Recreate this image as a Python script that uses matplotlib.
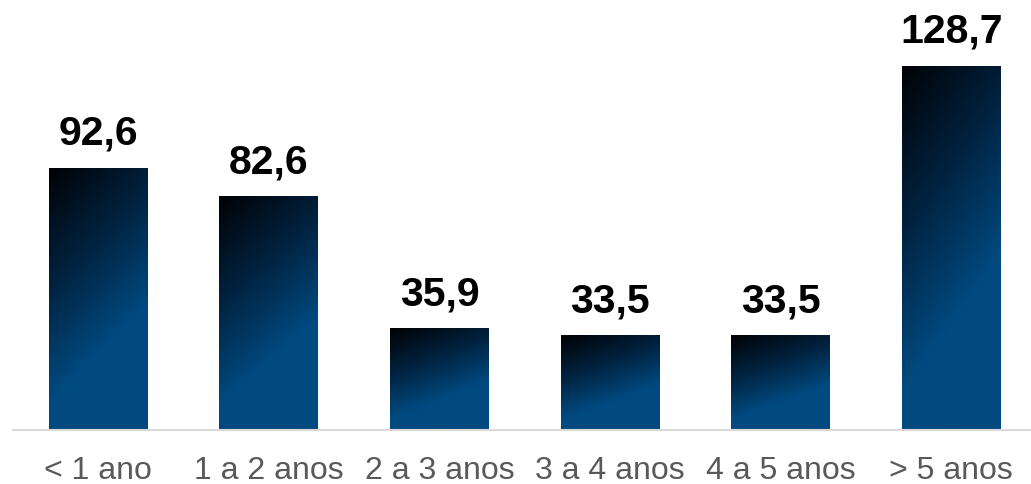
import numpy as np
import matplotlib.pyplot as plt
from matplotlib.colors import LinearSegmentedColormap

# --- Dati ---
categorie = ['< 1 ano', '1 a 2 anos', '2 a 3 anos', '3 a 4 anos', '4 a 5 anos', '> 5 anos']
valori = [92.6, 82.6, 35.9, 33.5, 33.5, 128.7]
etichette = ['92,6', '82,6', '35,9', '33,5', '33,5', '128,7']

plt.rcParams['font.family'] = ['Liberation Sans', 'DejaVu Sans']

fig = plt.figure(figsize=(10.31, 4.85), dpi=100)
ax = fig.add_axes([13 / 1031, 54 / 485, 1 - 13 / 1031, 431 / 485])

x = np.arange(len(categorie))
bars = ax.bar(x, valori, width=0.58, color='none', edgecolor='none', zorder=2)

# gradiente diagonale: nero in alto a sinistra -> blu in basso
cmap = LinearSegmentedColormap.from_list('grad', ['#000205', '#00223f', '#004a80'])
u = np.linspace(0, 1, 60)
v = np.linspace(0, 1, 200)
U, V = np.meshgrid(u, v)
T = np.clip((V + 0.37 * U) / 0.9, 0, 1)

for b in bars:
    x0, y0, w, h = b.get_x(), b.get_y(), b.get_width(), b.get_height()
    # riga 0 (T=0, scuro) in cima alla barra
    im = ax.imshow(T, cmap=cmap, vmin=0, vmax=1, aspect='auto',
                   extent=[x0, x0 + w, y0, y0 + h], origin='upper',
                   interpolation='bilinear', zorder=2)
    im.set_clip_path(b)

for xi, val, lab in zip(x, valori, etichette):
    ax.annotate(lab, (xi, val), xytext=(0, 11.5), textcoords='offset points',
                ha='center', va='bottom', fontsize=29.5, fontweight='bold',
                color='black')

ax.set_xlim(-0.5, 5.467)
ax.set_ylim(0, 152.3)
ax.set_xticks(x)
ax.set_xticklabels(categorie, fontsize=23, color='#595959')
ax.tick_params(axis='x', length=0, pad=18)
ax.set_yticks([])
for s in ['top', 'right', 'left']:
    ax.spines[s].set_visible(False)
ax.spines['bottom'].set_color('#d9d9d9')
ax.spines['bottom'].set_linewidth(1.5)

fig.savefig('out.png', dpi=100)
